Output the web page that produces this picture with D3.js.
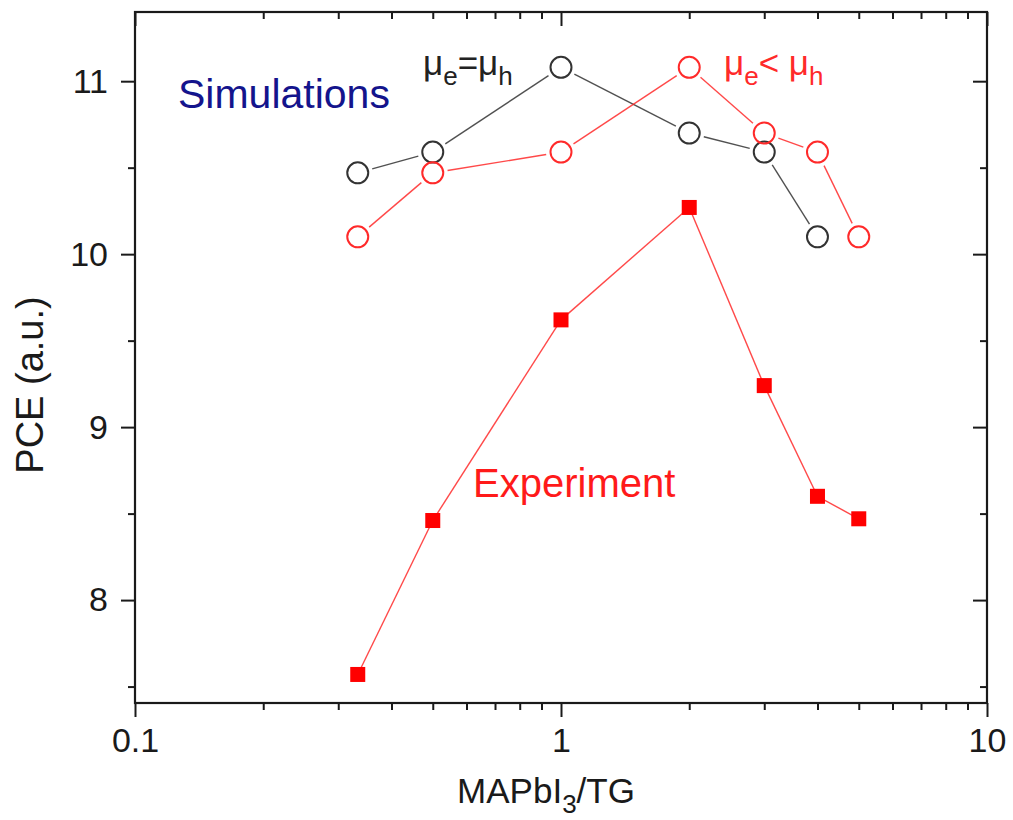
<!DOCTYPE html>
<html>
<head>
<meta charset="utf-8">
<script src="https://cdn.jsdelivr.net/npm/d3@7"></script>
<style>
  html, body { margin: 0; padding: 0; background: #fff; }
  svg { display: block; font-family: "Liberation Sans", Arial, sans-serif; }
</style>
</head>
<body>
<svg id="chart" width="1013" height="820"></svg>
<script>
// MAPbI3/TG ratio for each sample
const ratioSim = [1/3, 0.5, 1, 2, 3, 4];
const ratioSimUnequal = [1/3, 0.5, 1, 2, 3, 4, 5];
const ratioExp = [1/3, 0.5, 1, 2, 3, 4, 5];

// PCE (a.u.)
const pceEqual = [10.47, 10.59, 11.08, 10.70, 10.59, 10.10];          // simulation, mu_e = mu_h
const pceUnequal = [10.10, 10.47, 10.59, 11.08, 10.70, 10.59, 10.10]; // simulation, mu_e < mu_h
const pceExp = [7.57, 8.46, 9.62, 10.27, 9.24, 8.60, 8.47];           // experiment

const xTicks = [0.1, 1, 10];
const xTickLabels = ["0.1", "1", "10"];
const yTicks = [8, 9, 10, 11];

const svg = d3.select("#chart");
const m = { left: 135, right: 987, top: 12, bottom: 703 };

const x = d3.scaleLog().domain([0.1, 10]).range([m.left, m.right]);
const y = d3.scaleLinear().domain([7.405, 11.4]).range([m.bottom, m.top]);

const minorX = [];
[0.1, 1].forEach(d => { for (let k = 2; k <= 9; k++) minorX.push(d * k); });
const minorY = [7.5, 8.5, 9.5, 10.5];

const axisColor = "#1a1a1a";
const major = 14, minor = 7;

// bottom axis (ticks outward)
const gB = svg.append("g").attr("transform", `translate(0,${m.bottom})`);
gB.call(d3.axisBottom(x).tickValues(xTicks).tickSize(major).tickFormat((d, i) => xTickLabels[i]).tickPadding(11));
gB.append("g").call(d3.axisBottom(x).tickValues(minorX).tickSize(minor).tickFormat(""));
// top axis (ticks inward)
const gT = svg.append("g").attr("transform", `translate(0,${m.top})`);
gT.call(d3.axisBottom(x).tickValues(xTicks).tickSize(major).tickFormat(""));
gT.append("g").call(d3.axisBottom(x).tickValues(minorX).tickSize(minor).tickFormat(""));
// left axis (ticks outward)
const gL = svg.append("g").attr("transform", `translate(${m.left},0)`);
gL.call(d3.axisLeft(y).tickValues(yTicks).tickSize(major).tickFormat(d3.format("d")).tickPadding(13));
gL.append("g").call(d3.axisLeft(y).tickValues(minorY).tickSize(minor).tickFormat(""));
// right axis (ticks inward)
const gR = svg.append("g").attr("transform", `translate(${m.right},0)`);
gR.call(d3.axisLeft(y).tickValues(yTicks).tickSize(major).tickFormat(""));
gR.append("g").call(d3.axisLeft(y).tickValues(minorY).tickSize(minor).tickFormat(""));

svg.selectAll(".domain").remove();
svg.selectAll(".tick line").attr("stroke", axisColor).attr("stroke-width", 2);
svg.selectAll(".tick text").attr("fill", axisColor).style("font-size", "34px")
  .style("font-family", "Liberation Sans, Arial, sans-serif");

// frame
svg.append("rect")
  .attr("x", m.left).attr("y", m.top)
  .attr("width", m.right - m.left).attr("height", m.bottom - m.top)
  .attr("fill", "none").attr("stroke", axisColor).attr("stroke-width", 2.2);

// axis titles
svg.append("text")
  .attr("transform", `translate(43,385) rotate(-90)`)
  .attr("text-anchor", "middle").attr("fill", axisColor)
  .style("font-size", "38px").text("PCE (a.u.)");

const xt = svg.append("text").attr("x", 546).attr("y", 803)
  .attr("text-anchor", "middle").attr("fill", axisColor).style("font-size", "35px");
xt.append("tspan").text("MAPbI");
xt.append("tspan").attr("dy", 10).style("font-size", "26px").text("3");
xt.append("tspan").attr("dy", -10).text("/TG");

// series
const zip = (a, b) => a.map((v, i) => [v, b[i]]);

const simEq = zip(ratioSim, pceEqual);
const simNe = zip(ratioSimUnequal, pceUnequal);
const exp = zip(ratioExp, pceExp);

const black = "#333333", red = "#ff2a2a";

const plot = svg.append("g");

// connecting lines, with a small gap left around each open circle
function drawLine(data, color, gap) {
  for (let i = 0; i < data.length - 1; i++) {
    const x0 = x(data[i][0]), y0 = y(data[i][1]);
    const x1 = x(data[i + 1][0]), y1 = y(data[i + 1][1]);
    const len = Math.hypot(x1 - x0, y1 - y0);
    const ux = (x1 - x0) / len, uy = (y1 - y0) / len;
    plot.append("line")
      .attr("x1", x0 + ux * gap).attr("y1", y0 + uy * gap)
      .attr("x2", x1 - ux * gap).attr("y2", y1 - uy * gap)
      .attr("stroke", color).attr("stroke-width", 1.4).attr("opacity", 0.85);
  }
}

drawLine(exp, red, 0);
drawLine(simEq, black, 15);
drawLine(simNe, red, 15);

plot.selectAll(".exp").data(exp).enter().append("rect")
  .attr("x", d => x(d[0]) - 7.5).attr("y", d => y(d[1]) - 7.5)
  .attr("width", 15).attr("height", 15).attr("fill", "#ff0000");

plot.selectAll(".eq").data(simEq).enter().append("circle")
  .attr("cx", d => x(d[0])).attr("cy", d => y(d[1])).attr("r", 10.5)
  .attr("fill", "none").attr("stroke", black).attr("stroke-width", 2);

plot.selectAll(".ne").data(simNe).enter().append("circle")
  .attr("cx", d => x(d[0])).attr("cy", d => y(d[1])).attr("r", 10.5)
  .attr("fill", "none").attr("stroke", red).attr("stroke-width", 2);

// annotations
svg.append("text").attr("x", 178).attr("y", 108).attr("fill", "#14148c")
  .style("font-size", "41px").text("Simulations");

svg.append("text").attr("x", 473).attr("y", 497).attr("fill", "#ff1a1a")
  .style("font-size", "40px").text("Experiment");

function muLabel(xp, yp, color, rel) {
  const t = svg.append("text").attr("x", xp).attr("y", yp).attr("fill", color).style("font-size", "35px");
  t.append("tspan").text("\u03bc");
  t.append("tspan").attr("dy", 10).style("font-size", "26px").text("e");
  t.append("tspan").attr("dy", -10).text(rel);
  t.append("tspan").text("\u03bc");
  t.append("tspan").attr("dy", 10).style("font-size", "26px").text("h");
}
muLabel(423, 75, "#222", "=");
muLabel(724, 75, "#ff2a2a", "< ");
</script>
</body>
</html>
